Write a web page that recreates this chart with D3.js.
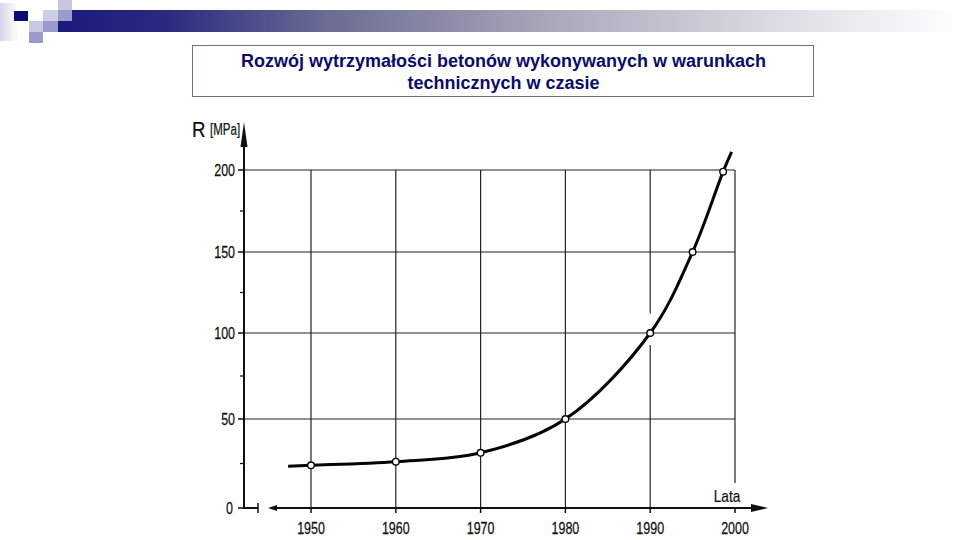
<!DOCTYPE html>
<html>
<head>
<meta charset="utf-8">
<script src="https://cdn.jsdelivr.net/npm/d3@7/dist/d3.min.js"></script>
<style>
  html, body { margin: 0; padding: 0; background: #ffffff; }
  svg { display: block; }
</style>
</head>
<body>
<svg id="chart" width="960" height="540"></svg>
<script>
// ---- data ----
const titleLines = ["Rozwój wytrzymałości betonów wykonywanych w warunkach", "technicznych w czasie"];
const years = [1950, 1960, 1970, 1980, 1990, 1995, 1998.6];
const strength = [24, 26, 31, 50, 100, 150, 199];
const curveStartYear = 1947.3, curveStartValue = 23.5;
const curveEndYear = 1999.6, curveEndValue = 211;
const yTicks = [0, 50, 100, 150, 200];
const yMinorTicks = [25, 75, 125, 175];
const xTicks = [1950, 1960, 1970, 1980, 1990, 2000];
const yLabel = "R", yUnit = "[MPa]", xLabel = "Lata";

const svg = d3.select("#chart");
const defs = svg.append("defs");

// ---- header decoration ----
const grad = defs.append("linearGradient").attr("id", "bar").attr("x1", "0").attr("x2", "1");
grad.append("stop").attr("offset", "0%").attr("stop-color", "#1a1a7c");
grad.append("stop").attr("offset", "12%").attr("stop-color", "#2a2a80");
grad.append("stop").attr("offset", "30%").attr("stop-color", "#6c6c94");
grad.append("stop").attr("offset", "55%").attr("stop-color", "#a9a9ba");
grad.append("stop").attr("offset", "80%").attr("stop-color", "#dcdce4");
grad.append("stop").attr("offset", "100%").attr("stop-color", "#ffffff");
const fade = defs.append("linearGradient").attr("id", "fade").attr("x1", "0").attr("x2", "1");
fade.append("stop").attr("offset", "0%").attr("stop-color", "#d6d6ea");
fade.append("stop").attr("offset", "100%").attr("stop-color", "#ffffff");

svg.append("rect").attr("x", 0).attr("y", 3).attr("width", 18).attr("height", 38).attr("fill", "url(#fade)");
svg.append("rect").attr("x", 58).attr("y", 10).attr("width", 902).attr("height", 22).attr("fill", "url(#bar)");
const squares = [
  {x: 14, y: 11, w: 14, h: 10, c: "#0c0c72"},
  {x: 43, y: 10, w: 15, h: 11, c: "#cdcde6"},
  {x: 58, y: 0,  w: 14, h: 10, c: "#c6c6e2"},
  {x: 58, y: 10, w: 14, h: 11, c: "#9c9ccc"},
  {x: 29, y: 21, w: 14, h: 11, c: "#c9c9e3"},
  {x: 43, y: 21, w: 15, h: 11, c: "#9a9acb"},
  {x: 29, y: 32, w: 14, h: 11, c: "#9a9acb"}
];
svg.selectAll("rect.sq").data(squares).join("rect").attr("class", "sq")
  .attr("x", d => d.x).attr("y", d => d.y).attr("width", d => d.w).attr("height", d => d.h)
  .attr("fill", d => d.c);

// ---- title box ----
svg.append("rect").attr("x", 192.5).attr("y", 45.5).attr("width", 621).attr("height", 51)
  .attr("fill", "#ffffff").attr("stroke", "#6e6e96").attr("stroke-width", 1);
svg.selectAll("text.title").data(titleLines).join("text").attr("class", "title")
  .attr("x", 503.5).attr("y", (d, i) => 67 + i * 22)
  .attr("text-anchor", "middle")
  .attr("font-family", "Liberation Sans, Arial, sans-serif")
  .attr("font-weight", "bold").attr("font-size", 18)
  .attr("fill", "#0b0b68").text(d => d);

// ---- scales ----
const x = d3.scaleLinear().domain([1950, 2000]).range([311, 735]);
const y = d3.scaleLinear().domain(yTicks).range([508, 419, 333, 252, 170]);
const x0 = 244; // y-axis position
const ink = "#111";
const font = "Liberation Sans, Arial, sans-serif";
const narrow = 0.78;

const g = svg.append("g");

// narrow text helper (scanned lettering is condensed and slightly heavy)
function ntext(sel, size) {
  return sel.attr("font-family", font).attr("font-size", size).attr("fill", ink)
    .attr("stroke", ink).attr("stroke-width", 0.25);
}

// horizontal grid
g.selectAll("line.hg").data(yTicks.filter(v => v > 0)).join("line").attr("class", "hg")
  .attr("x1", x0).attr("x2", x(2000)).attr("y1", d => y(d)).attr("y2", d => y(d))
  .attr("stroke", "#222").attr("stroke-width", 1.2);

// vertical grid (with the gaps seen in the original)
const vSegments = [];
xTicks.forEach(t => {
  if (t === 1990) { vSegments.push([t, 0, 93]); vSegments.push([t, 112, 200]); }
  else if (t === 2000) { vSegments.push([t, 14, 200]); }
  else vSegments.push([t, 0, 200]);
});
g.selectAll("line.vg").data(vSegments).join("line").attr("class", "vg")
  .attr("x1", d => x(d[0])).attr("x2", d => x(d[0])).attr("y1", d => y(d[1])).attr("y2", d => y(d[2]))
  .attr("stroke", "#222").attr("stroke-width", 1.2);

// y axis
g.append("line").attr("x1", x0).attr("x2", x0).attr("y1", y(0)).attr("y2", 140)
  .attr("stroke", ink).attr("stroke-width", 2);
g.append("path").attr("d", `M${x0},122 L${x0 + 3.5},147 L${x0 - 3.5},147 Z`).attr("fill", ink);
g.selectAll("line.ytick").data(yTicks).join("line").attr("class", "ytick")
  .attr("x1", x0 - 6).attr("x2", x0).attr("y1", d => y(d)).attr("y2", d => y(d))
  .attr("stroke", ink).attr("stroke-width", 1.5);
g.selectAll("line.ymin").data(yMinorTicks).join("line").attr("class", "ymin")
  .attr("x1", x0 - 4).attr("x2", x0).attr("y1", d => y(d)).attr("y2", d => y(d))
  .attr("stroke", ink).attr("stroke-width", 1.3);
ntext(g.selectAll("text.ylab").data(yTicks).join("text").attr("class", "ylab")
  .attr("transform", d => `translate(${d === 0 ? 233 : 235},${y(d) + 5.8}) scale(${narrow},1)`)
  .attr("text-anchor", "end").text(d => d), 16);

// y label
ntext(g.append("text").attr("transform", `translate(192,137) scale(0.85,1)`).text(yLabel), 22);
ntext(g.append("text").attr("transform", `translate(210,135) scale(0.72,1)`).text(yUnit), 16);

// x axis (broken near the origin)
const yA = y(0);
g.append("line").attr("x1", x0 - 1).attr("x2", 258).attr("y1", yA).attr("y2", yA)
  .attr("stroke", ink).attr("stroke-width", 2);
g.append("line").attr("x1", 258).attr("x2", 258).attr("y1", yA - 5).attr("y2", yA + 5)
  .attr("stroke", ink).attr("stroke-width", 1.5);
g.append("path").attr("d", `M268,${yA} L277,${yA - 3} L277,${yA + 3} Z`).attr("fill", ink);
g.append("line").attr("x1", 272).attr("x2", 755).attr("y1", yA).attr("y2", yA)
  .attr("stroke", ink).attr("stroke-width", 2);
g.append("path").attr("d", `M768,${yA} L751,${yA - 4} L751,${yA + 4} Z`).attr("fill", ink);
g.selectAll("line.xtick").data(xTicks).join("line").attr("class", "xtick")
  .attr("x1", d => x(d)).attr("x2", d => x(d)).attr("y1", yA).attr("y2", yA + 5)
  .attr("stroke", ink).attr("stroke-width", 1.5);
ntext(g.selectAll("text.xlab").data(xTicks).join("text").attr("class", "xlab")
  .attr("transform", d => `translate(${x(d)},534) scale(${narrow},1)`)
  .attr("text-anchor", "middle").text(d => d), 16);
ntext(g.append("text").attr("transform", `translate(727,502) scale(0.85,1)`)
  .attr("text-anchor", "middle").text(xLabel), 16);

// curve
const curvePts = [[curveStartYear, curveStartValue]]
  .concat(years.map((yr, i) => [yr, strength[i]]))
  .concat([[curveEndYear, curveEndValue]]);
const line = d3.line().x(d => x(d[0])).y(d => y(d[1])).curve(d3.curveCatmullRom.alpha(0.5));
g.append("path").attr("d", line(curvePts)).attr("fill", "none")
  .attr("stroke", "#050505").attr("stroke-width", 3).attr("stroke-linecap", "butt");

// points
g.selectAll("circle.pt").data(years.map((yr, i) => [yr, strength[i]])).join("circle").attr("class", "pt")
  .attr("cx", d => x(d[0])).attr("cy", d => y(d[1])).attr("r", 3.3)
  .attr("fill", "#ffffff").attr("stroke", "#050505").attr("stroke-width", 1.4);
</script>
</body>
</html>
